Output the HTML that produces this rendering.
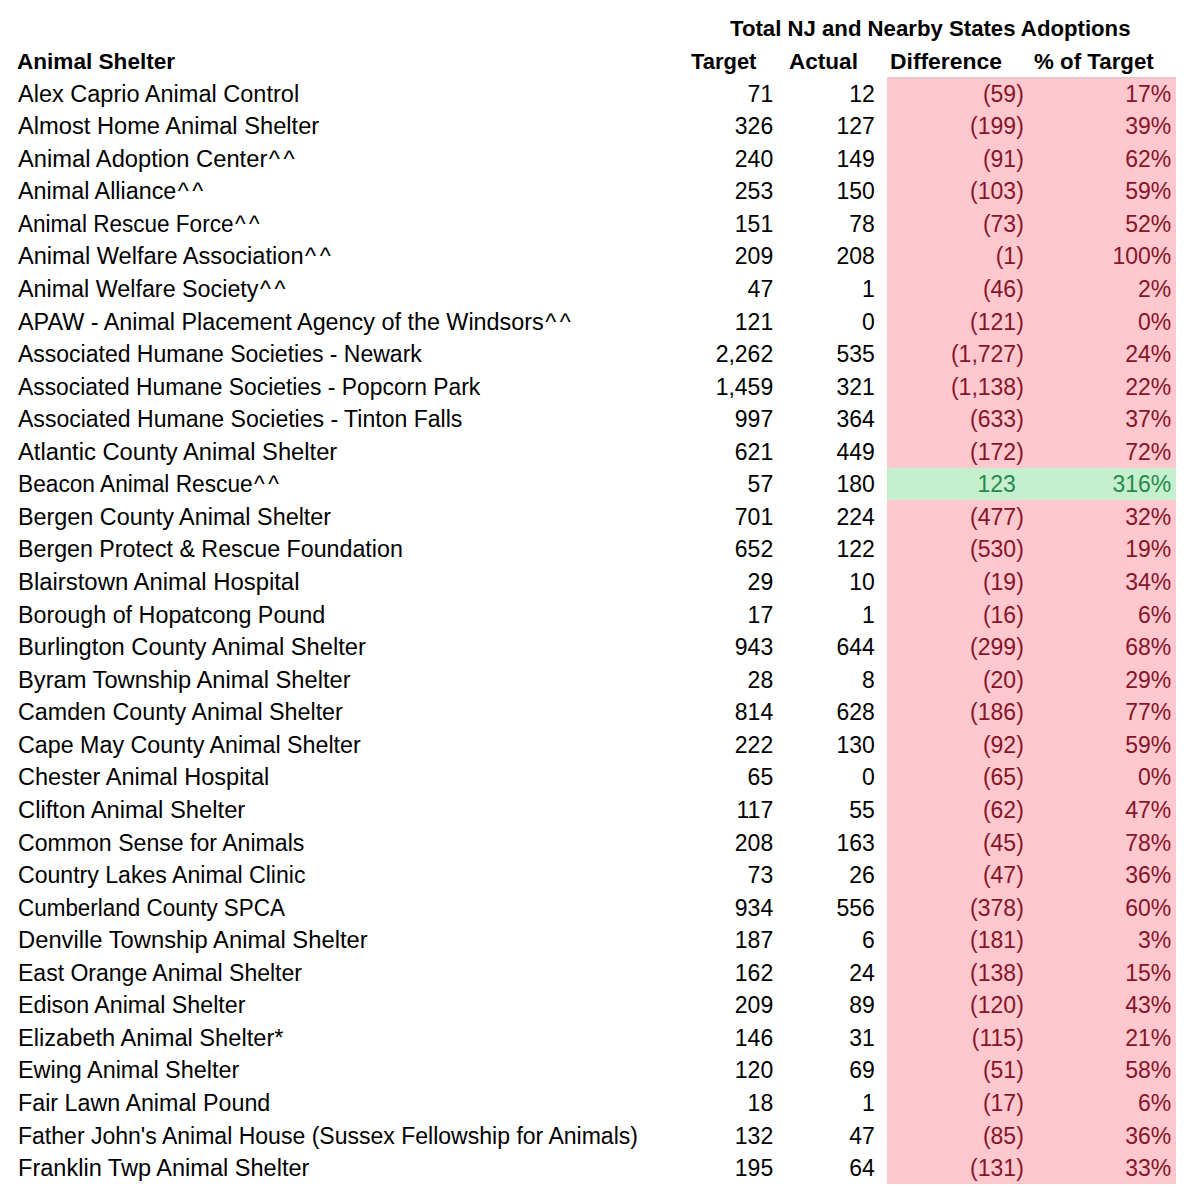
<!DOCTYPE html>
<html><head><meta charset="utf-8"><style>
html,body{margin:0;padding:0;background:#fff;}
body{width:1189px;height:1199px;position:relative;overflow:hidden;font-family:"Liberation Sans",sans-serif;color:#000;}
.t{position:absolute;white-space:nowrap;line-height:1;font-size:23px;}
.l{transform-origin:0 0;}
.r{transform-origin:100% 0;transform:scaleX(1.0);}
.b{font-weight:bold;font-size:22px;}
.bl{transform-origin:0 0;transform:scaleX(0.96);}
.bc{transform-origin:50% 0;transform:scaleX(0.96);}
.bad{color:#861427;}
.good{color:#238a4c;}
.fill{position:absolute;}
.c{letter-spacing:3.5px;margin-left:1.5px;}
</style></head><body>

<div class="fill" style="left:887px;top:77px;width:289px;height:1107.04px;background:#ffc7ce"></div>
<div class="fill" style="left:887px;top:77px;width:289px;height:1.5px;background:#e9c6cb"></div>
<div class="fill" style="left:887px;top:467.72px;width:289px;height:32.56px;background:#c6efce"></div>
<div class="t b" style="left:730.49px;top:18.08px;transform-origin:0 0;transform:scaleX(1.0081)">Total NJ and Nearby States Adoptions</div>
<div class="t b" style="left:17.19px;top:50.88px;transform-origin:0 0;transform:scaleX(1.0262)">Animal Shelter</div>
<div class="t b" style="left:690.80px;top:50.68px;transform-origin:0 0;transform:scaleX(0.9971)">Target</div>
<div class="t b" style="left:789.18px;top:50.68px;transform-origin:0 0;transform:scaleX(1.0246)">Actual</div>
<div class="t b" style="left:890.44px;top:50.68px;transform-origin:0 0;transform:scaleX(1.0400)">Difference</div>
<div class="t b" style="left:1033.79px;top:50.68px;transform-origin:0 0;transform:scaleX(1.0136)">% of Target</div>
<div class="t l" style="left:18.4px;top:82.63px;transform:scaleX(1.0228)">Alex Caprio Animal Control</div>
<div class="t r" style="right:415.8px;top:82.63px">71</div>
<div class="t r" style="right:314.2px;top:82.63px">12</div>
<div class="t r bad" style="right:165.2px;top:82.63px">(59)</div>
<div class="t r bad" style="right:17.7px;top:82.63px">17%</div>
<div class="t l" style="left:18.4px;top:115.19px;transform:scaleX(1.0289)">Almost Home Animal Shelter</div>
<div class="t r" style="right:415.8px;top:115.19px">326</div>
<div class="t r" style="right:314.2px;top:115.19px">127</div>
<div class="t r bad" style="right:165.2px;top:115.19px">(199)</div>
<div class="t r bad" style="right:17.7px;top:115.19px">39%</div>
<div class="t l" style="left:18.4px;top:147.75px;transform:scaleX(1.0316)">Animal Adoption Center<span class="c">^^</span></div>
<div class="t r" style="right:415.8px;top:147.75px">240</div>
<div class="t r" style="right:314.2px;top:147.75px">149</div>
<div class="t r bad" style="right:165.2px;top:147.75px">(91)</div>
<div class="t r bad" style="right:17.7px;top:147.75px">62%</div>
<div class="t l" style="left:18.4px;top:180.31px;transform:scaleX(1.0151)">Animal Alliance<span class="c">^^</span></div>
<div class="t r" style="right:415.8px;top:180.31px">253</div>
<div class="t r" style="right:314.2px;top:180.31px">150</div>
<div class="t r bad" style="right:165.2px;top:180.31px">(103)</div>
<div class="t r bad" style="right:17.7px;top:180.31px">59%</div>
<div class="t l" style="left:18.4px;top:212.87px;transform:scaleX(0.9799)">Animal Rescue Force<span class="c">^^</span></div>
<div class="t r" style="right:415.8px;top:212.87px">151</div>
<div class="t r" style="right:314.2px;top:212.87px">78</div>
<div class="t r bad" style="right:165.2px;top:212.87px">(73)</div>
<div class="t r bad" style="right:17.7px;top:212.87px">52%</div>
<div class="t l" style="left:18.4px;top:245.43px;transform:scaleX(1.0261)">Animal Welfare Association<span class="c">^^</span></div>
<div class="t r" style="right:415.8px;top:245.43px">209</div>
<div class="t r" style="right:314.2px;top:245.43px">208</div>
<div class="t r bad" style="right:165.2px;top:245.43px">(1)</div>
<div class="t r bad" style="right:17.7px;top:245.43px">100%</div>
<div class="t l" style="left:18.4px;top:277.99px;transform:scaleX(1.0133)">Animal Welfare Society<span class="c">^^</span></div>
<div class="t r" style="right:415.8px;top:277.99px">47</div>
<div class="t r" style="right:314.2px;top:277.99px">1</div>
<div class="t r bad" style="right:165.2px;top:277.99px">(46)</div>
<div class="t r bad" style="right:17.7px;top:277.99px">2%</div>
<div class="t l" style="left:18.4px;top:310.55px;transform:scaleX(1.0154)">APAW - Animal Placement Agency of the Windsors<span class="c">^^</span></div>
<div class="t r" style="right:415.8px;top:310.55px">121</div>
<div class="t r" style="right:314.2px;top:310.55px">0</div>
<div class="t r bad" style="right:165.2px;top:310.55px">(121)</div>
<div class="t r bad" style="right:17.7px;top:310.55px">0%</div>
<div class="t l" style="left:18.4px;top:343.11px;transform:scaleX(0.9996)">Associated Humane Societies - Newark</div>
<div class="t r" style="right:415.8px;top:343.11px">2,262</div>
<div class="t r" style="right:314.2px;top:343.11px">535</div>
<div class="t r bad" style="right:165.2px;top:343.11px">(1,727)</div>
<div class="t r bad" style="right:17.7px;top:343.11px">24%</div>
<div class="t l" style="left:18.4px;top:375.67px;transform:scaleX(0.9933)">Associated Humane Societies - Popcorn Park</div>
<div class="t r" style="right:415.8px;top:375.67px">1,459</div>
<div class="t r" style="right:314.2px;top:375.67px">321</div>
<div class="t r bad" style="right:165.2px;top:375.67px">(1,138)</div>
<div class="t r bad" style="right:17.7px;top:375.67px">22%</div>
<div class="t l" style="left:18.4px;top:408.23px;transform:scaleX(1.0016)">Associated Humane Societies - Tinton Falls</div>
<div class="t r" style="right:415.8px;top:408.23px">997</div>
<div class="t r" style="right:314.2px;top:408.23px">364</div>
<div class="t r bad" style="right:165.2px;top:408.23px">(633)</div>
<div class="t r bad" style="right:17.7px;top:408.23px">37%</div>
<div class="t l" style="left:18.4px;top:440.79px;transform:scaleX(1.0320)">Atlantic County Animal Shelter</div>
<div class="t r" style="right:415.8px;top:440.79px">621</div>
<div class="t r" style="right:314.2px;top:440.79px">449</div>
<div class="t r bad" style="right:165.2px;top:440.79px">(172)</div>
<div class="t r bad" style="right:17.7px;top:440.79px">72%</div>
<div class="t l" style="left:18.4px;top:473.35px;transform:scaleX(0.9866)">Beacon Animal Rescue<span class="c">^^</span></div>
<div class="t r" style="right:415.8px;top:473.35px">57</div>
<div class="t r" style="right:314.2px;top:473.35px">180</div>
<div class="t r good" style="right:173.2px;top:473.35px">123</div>
<div class="t r good" style="right:17.7px;top:473.35px">316%</div>
<div class="t l" style="left:18.4px;top:505.91px;transform:scaleX(1.0162)">Bergen County Animal Shelter</div>
<div class="t r" style="right:415.8px;top:505.91px">701</div>
<div class="t r" style="right:314.2px;top:505.91px">224</div>
<div class="t r bad" style="right:165.2px;top:505.91px">(477)</div>
<div class="t r bad" style="right:17.7px;top:505.91px">32%</div>
<div class="t l" style="left:18.4px;top:538.47px;transform:scaleX(1.0100)">Bergen Protect &amp; Rescue Foundation</div>
<div class="t r" style="right:415.8px;top:538.47px">652</div>
<div class="t r" style="right:314.2px;top:538.47px">122</div>
<div class="t r bad" style="right:165.2px;top:538.47px">(530)</div>
<div class="t r bad" style="right:17.7px;top:538.47px">19%</div>
<div class="t l" style="left:18.4px;top:571.03px;transform:scaleX(1.0386)">Blairstown Animal Hospital</div>
<div class="t r" style="right:415.8px;top:571.03px">29</div>
<div class="t r" style="right:314.2px;top:571.03px">10</div>
<div class="t r bad" style="right:165.2px;top:571.03px">(19)</div>
<div class="t r bad" style="right:17.7px;top:571.03px">34%</div>
<div class="t l" style="left:18.4px;top:603.59px;transform:scaleX(1.0139)">Borough of Hopatcong Pound</div>
<div class="t r" style="right:415.8px;top:603.59px">17</div>
<div class="t r" style="right:314.2px;top:603.59px">1</div>
<div class="t r bad" style="right:165.2px;top:603.59px">(16)</div>
<div class="t r bad" style="right:17.7px;top:603.59px">6%</div>
<div class="t l" style="left:18.4px;top:636.15px;transform:scaleX(1.0308)">Burlington County Animal Shelter</div>
<div class="t r" style="right:415.8px;top:636.15px">943</div>
<div class="t r" style="right:314.2px;top:636.15px">644</div>
<div class="t r bad" style="right:165.2px;top:636.15px">(299)</div>
<div class="t r bad" style="right:17.7px;top:636.15px">68%</div>
<div class="t l" style="left:18.4px;top:668.71px;transform:scaleX(1.0295)">Byram Township Animal Shelter</div>
<div class="t r" style="right:415.8px;top:668.71px">28</div>
<div class="t r" style="right:314.2px;top:668.71px">8</div>
<div class="t r bad" style="right:165.2px;top:668.71px">(20)</div>
<div class="t r bad" style="right:17.7px;top:668.71px">29%</div>
<div class="t l" style="left:18.4px;top:701.27px;transform:scaleX(1.0122)">Camden County Animal Shelter</div>
<div class="t r" style="right:415.8px;top:701.27px">814</div>
<div class="t r" style="right:314.2px;top:701.27px">628</div>
<div class="t r bad" style="right:165.2px;top:701.27px">(186)</div>
<div class="t r bad" style="right:17.7px;top:701.27px">77%</div>
<div class="t l" style="left:18.4px;top:733.83px;transform:scaleX(1.0118)">Cape May County Animal Shelter</div>
<div class="t r" style="right:415.8px;top:733.83px">222</div>
<div class="t r" style="right:314.2px;top:733.83px">130</div>
<div class="t r bad" style="right:165.2px;top:733.83px">(92)</div>
<div class="t r bad" style="right:17.7px;top:733.83px">59%</div>
<div class="t l" style="left:18.4px;top:766.39px;transform:scaleX(1.0236)">Chester Animal Hospital</div>
<div class="t r" style="right:415.8px;top:766.39px">65</div>
<div class="t r" style="right:314.2px;top:766.39px">0</div>
<div class="t r bad" style="right:165.2px;top:766.39px">(65)</div>
<div class="t r bad" style="right:17.7px;top:766.39px">0%</div>
<div class="t l" style="left:18.4px;top:798.95px;transform:scaleX(1.0337)">Clifton Animal Shelter</div>
<div class="t r" style="right:415.8px;top:798.95px">117</div>
<div class="t r" style="right:314.2px;top:798.95px">55</div>
<div class="t r bad" style="right:165.2px;top:798.95px">(62)</div>
<div class="t r bad" style="right:17.7px;top:798.95px">47%</div>
<div class="t l" style="left:18.4px;top:831.51px;transform:scaleX(1.0044)">Common Sense for Animals</div>
<div class="t r" style="right:415.8px;top:831.51px">208</div>
<div class="t r" style="right:314.2px;top:831.51px">163</div>
<div class="t r bad" style="right:165.2px;top:831.51px">(45)</div>
<div class="t r bad" style="right:17.7px;top:831.51px">78%</div>
<div class="t l" style="left:18.4px;top:864.07px;transform:scaleX(1.0040)">Country Lakes Animal Clinic</div>
<div class="t r" style="right:415.8px;top:864.07px">73</div>
<div class="t r" style="right:314.2px;top:864.07px">26</div>
<div class="t r bad" style="right:165.2px;top:864.07px">(47)</div>
<div class="t r bad" style="right:17.7px;top:864.07px">36%</div>
<div class="t l" style="left:18.4px;top:896.63px;transform:scaleX(0.9759)">Cumberland County SPCA</div>
<div class="t r" style="right:415.8px;top:896.63px">934</div>
<div class="t r" style="right:314.2px;top:896.63px">556</div>
<div class="t r bad" style="right:165.2px;top:896.63px">(378)</div>
<div class="t r bad" style="right:17.7px;top:896.63px">60%</div>
<div class="t l" style="left:18.4px;top:929.19px;transform:scaleX(1.0334)">Denville Township Animal Shelter</div>
<div class="t r" style="right:415.8px;top:929.19px">187</div>
<div class="t r" style="right:314.2px;top:929.19px">6</div>
<div class="t r bad" style="right:165.2px;top:929.19px">(181)</div>
<div class="t r bad" style="right:17.7px;top:929.19px">3%</div>
<div class="t l" style="left:18.4px;top:961.75px;transform:scaleX(1.0005)">East Orange Animal Shelter</div>
<div class="t r" style="right:415.8px;top:961.75px">162</div>
<div class="t r" style="right:314.2px;top:961.75px">24</div>
<div class="t r bad" style="right:165.2px;top:961.75px">(138)</div>
<div class="t r bad" style="right:17.7px;top:961.75px">15%</div>
<div class="t l" style="left:18.4px;top:994.31px;transform:scaleX(1.0109)">Edison Animal Shelter</div>
<div class="t r" style="right:415.8px;top:994.31px">209</div>
<div class="t r" style="right:314.2px;top:994.31px">89</div>
<div class="t r bad" style="right:165.2px;top:994.31px">(120)</div>
<div class="t r bad" style="right:17.7px;top:994.31px">43%</div>
<div class="t l" style="left:18.4px;top:1026.87px;transform:scaleX(1.0279)">Elizabeth Animal Shelter*</div>
<div class="t r" style="right:415.8px;top:1026.87px">146</div>
<div class="t r" style="right:314.2px;top:1026.87px">31</div>
<div class="t r bad" style="right:165.2px;top:1026.87px">(115)</div>
<div class="t r bad" style="right:17.7px;top:1026.87px">21%</div>
<div class="t l" style="left:18.4px;top:1059.43px;transform:scaleX(1.0184)">Ewing Animal Shelter</div>
<div class="t r" style="right:415.8px;top:1059.43px">120</div>
<div class="t r" style="right:314.2px;top:1059.43px">69</div>
<div class="t r bad" style="right:165.2px;top:1059.43px">(51)</div>
<div class="t r bad" style="right:17.7px;top:1059.43px">58%</div>
<div class="t l" style="left:18.4px;top:1091.99px;transform:scaleX(1.0120)">Fair Lawn Animal Pound</div>
<div class="t r" style="right:415.8px;top:1091.99px">18</div>
<div class="t r" style="right:314.2px;top:1091.99px">1</div>
<div class="t r bad" style="right:165.2px;top:1091.99px">(17)</div>
<div class="t r bad" style="right:17.7px;top:1091.99px">6%</div>
<div class="t l" style="left:18.4px;top:1124.55px;transform:scaleX(1.0011)">Father John's Animal House (Sussex Fellowship for Animals)</div>
<div class="t r" style="right:415.8px;top:1124.55px">132</div>
<div class="t r" style="right:314.2px;top:1124.55px">47</div>
<div class="t r bad" style="right:165.2px;top:1124.55px">(85)</div>
<div class="t r bad" style="right:17.7px;top:1124.55px">36%</div>
<div class="t l" style="left:18.4px;top:1157.11px;transform:scaleX(1.0238)">Franklin Twp Animal Shelter</div>
<div class="t r" style="right:415.8px;top:1157.11px">195</div>
<div class="t r" style="right:314.2px;top:1157.11px">64</div>
<div class="t r bad" style="right:165.2px;top:1157.11px">(131)</div>
<div class="t r bad" style="right:17.7px;top:1157.11px">33%</div>
</body></html>
